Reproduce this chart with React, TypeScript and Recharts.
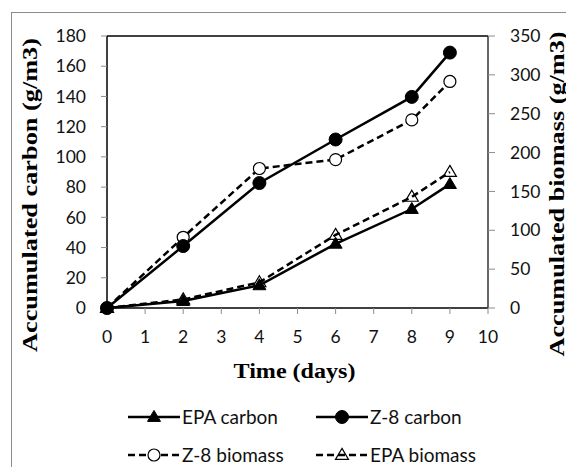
import React from 'react';
import { LineChart, Line, XAxis, YAxis, ReferenceLine } from 'recharts';

const days = [0, 2, 4, 6, 8, 9];
const epaCarbon = [0, 4.6, 15, 42.5, 65.5, 82];
const z8Carbon = [0, 41, 82.7, 111.5, 139.7, 169];
const z8Biomass = [0, 91, 179.5, 191, 242, 291.5];
const epaBiomass = [0, 11, 33, 94, 143, 175];

const xTicks = [0, 1, 2, 3, 4, 5, 6, 7, 8, 9, 10];
const leftTicks = [0, 20, 40, 60, 80, 100, 120, 140, 160, 180];
const rightTicks = [0, 50, 100, 150, 200, 250, 300, 350];

const seriesNames = ['EPA carbon', 'Z-8 carbon', 'Z-8 biomass', 'EPA biomass'];

const data = days.map((d, i) => ({
  day: d,
  epaC: epaCarbon[i],
  z8C: z8Carbon[i],
  z8B: z8Biomass[i],
  epaB: epaBiomass[i],
}));

const TICK_FONT = 'Lato, "Open Sans", sans-serif';
const SERIF = '"Liberation Serif", "Times New Roman", serif';

type Shape = 'triFilled' | 'circFilled' | 'circOpen' | 'triOpen';

function Marker({ cx, cy, shape }: { cx: number; cy: number; shape: Shape }) {
  if (shape === 'circFilled') return <circle cx={cx} cy={cy} r={6.5} fill="#000" stroke="#000" />;
  if (shape === 'circOpen') return <circle cx={cx} cy={cy} r={6} fill="#fff" stroke="#000" strokeWidth={1.2} />;
  const w = 6.5;
  const h = 11;
  const p = `M${cx},${cy - h * 0.6} L${cx + w},${cy + h * 0.4} L${cx - w},${cy + h * 0.4} Z`;
  if (shape === 'triFilled') return <path d={p} fill="#000" stroke="#000" />;
  return <path d={p} fill="none" stroke="#000" strokeWidth={1.2} />;
}

const mkDot = (shape: Shape) => (props: any) => {
  const { cx, cy, index } = props;
  if (cx == null || cy == null) return <g key={`d-${shape}-${index}`} />;
  return (
    <g key={`d-${shape}-${index}`}>
      <Marker cx={cx} cy={cy} shape={shape} />
    </g>
  );
};

const legendItems: { name: string; dashed: boolean; shape: Shape; x: number; y: number }[] = [
  { name: seriesNames[0], dashed: false, shape: 'triFilled', x: 128, y: 417 },
  { name: seriesNames[1], dashed: false, shape: 'circFilled', x: 316, y: 417 },
  { name: seriesNames[2], dashed: true, shape: 'circOpen', x: 128, y: 455 },
  { name: seriesNames[3], dashed: true, shape: 'triOpen', x: 316, y: 455 },
];

export default function App() {
  return (
    <div
      style={{
        position: 'absolute',
        left: 0,
        top: 0,
        width: 566,
        height: 467,
        overflow: 'hidden',
        background: '#fff',
      }}
    >
      <div
        style={{
          position: 'absolute',
          left: 11,
          top: 12,
          width: 700,
          height: 700,
          border: '1px solid #8c8c8c',
        }}
      />
      <div style={{ position: 'absolute', left: 0, top: 0 }}>
        <LineChart width={566} height={467} data={data} margin={{ top: 36, right: 0, left: 0, bottom: 0 }}>
          <XAxis
            dataKey="day"
            type="number"
            domain={[0, 10]}
            ticks={xTicks}
            interval={0}
            height={159}
            tickSize={6}
            tickMargin={17}
            axisLine={{ stroke: '#000', strokeWidth: 1.5 }}
            tickLine={{ stroke: '#8c8c8c' }}
            tick={{ fill: '#111', fontSize: 17.5, fontFamily: TICK_FONT }}
            label={{
              content: (p: any) => {
                const vb = p.viewBox;
                const cx = vb.x + vb.width / 2 - 3;
                return (
                  <text
                    x={cx}
                    y={378}
                    textAnchor="middle"
                    fontFamily={SERIF}
                    fontWeight="bold"
                    fontSize={20}
                    fill="#000"
                    textLength={122}
                    lengthAdjust="spacingAndGlyphs"
                  >
                    Time (days)
                  </text>
                );
              },
            }}
          />
          <YAxis
            yAxisId="left"
            domain={[0, 180]}
            ticks={leftTicks}
            interval={0}
            width={107}
            tickSize={6}
            tickMargin={15}
            axisLine={{ stroke: '#000', strokeWidth: 1.5 }}
            tickLine={{ stroke: '#8c8c8c' }}
            tick={{ fill: '#111', fontSize: 17.5, fontFamily: TICK_FONT }}
            label={{
              content: (p: any) => {
                const vb = p.viewBox;
                const cy = vb.y + vb.height / 2 + 23;
                const x = 37;
                return (
                  <text
                    x={x}
                    y={cy}
                    transform={`rotate(-90, ${x}, ${cy})`}
                    textAnchor="middle"
                    fontFamily={SERIF}
                    fontWeight="bold"
                    fontSize={20}
                    fill="#000"
                    textLength={314}
                    lengthAdjust="spacingAndGlyphs"
                  >
                    Accumulated carbon  (g/m3)
                  </text>
                );
              },
            }}
          />
          <YAxis
            yAxisId="right"
            orientation="right"
            domain={[0, 350]}
            ticks={rightTicks}
            interval={0}
            width={78}
            tickSize={7}
            tickMargin={15}
            axisLine={{ stroke: '#333', strokeWidth: 1.5 }}
            tickLine={{ stroke: '#8c8c8c' }}
            tick={{ fill: '#111', fontSize: 17.5, fontFamily: TICK_FONT }}
            label={{
              content: (p: any) => {
                const vb = p.viewBox;
                const cy = vb.y + vb.height / 2 + 22;
                const x = 564;
                return (
                  <text
                    x={x}
                    y={cy}
                    transform={`rotate(-90, ${x}, ${cy})`}
                    textAnchor="middle"
                    fontFamily={SERIF}
                    fontWeight="bold"
                    fontSize={20}
                    fill="#000"
                    textLength={325}
                    lengthAdjust="spacingAndGlyphs"
                  >
                    Accumulated biomass (g/m3)
                  </text>
                );
              },
            }}
          />
          <ReferenceLine yAxisId="left" y={180} stroke="#000" strokeWidth={1.5} />
          <Line
            yAxisId="right"
            dataKey="z8B"
            name={seriesNames[2]}
            stroke="#000"
            strokeWidth={2.5}
            strokeDasharray="7 4"
            type="linear"
            dot={mkDot('circOpen')}
            isAnimationActive={false}
          />
          <Line
            yAxisId="right"
            dataKey="epaB"
            name={seriesNames[3]}
            stroke="#000"
            strokeWidth={2.5}
            strokeDasharray="7 4"
            type="linear"
            dot={mkDot('triOpen')}
            isAnimationActive={false}
          />
          <Line
            yAxisId="left"
            dataKey="epaC"
            name={seriesNames[0]}
            stroke="#000"
            strokeWidth={2.5}
            type="linear"
            dot={mkDot('triFilled')}
            isAnimationActive={false}
          />
          <Line
            yAxisId="left"
            dataKey="z8C"
            name={seriesNames[1]}
            stroke="#000"
            strokeWidth={2.5}
            type="linear"
            dot={mkDot('circFilled')}
            isAnimationActive={false}
          />
        </LineChart>
      </div>
      <svg width={566} height={467} style={{ position: 'absolute', left: 0, top: 0, pointerEvents: 'none' }}>
        {legendItems.map((it) => (
          <g key={it.name}>
            <line
              x1={it.x}
              y1={it.y}
              x2={it.x + 52}
              y2={it.y}
              stroke="#000"
              strokeWidth={2.5}
              strokeDasharray={it.dashed ? '7 4' : undefined}
            />
            <Marker cx={it.x + 26} cy={it.y} shape={it.shape} />
            <text
              x={it.x + 54}
              y={it.y}
              dy="0.36em"
              fontFamily={TICK_FONT}
              fontSize={19}
              fill="#111"
            >
              {it.name}
            </text>
          </g>
        ))}
      </svg>
    </div>
  );
}
